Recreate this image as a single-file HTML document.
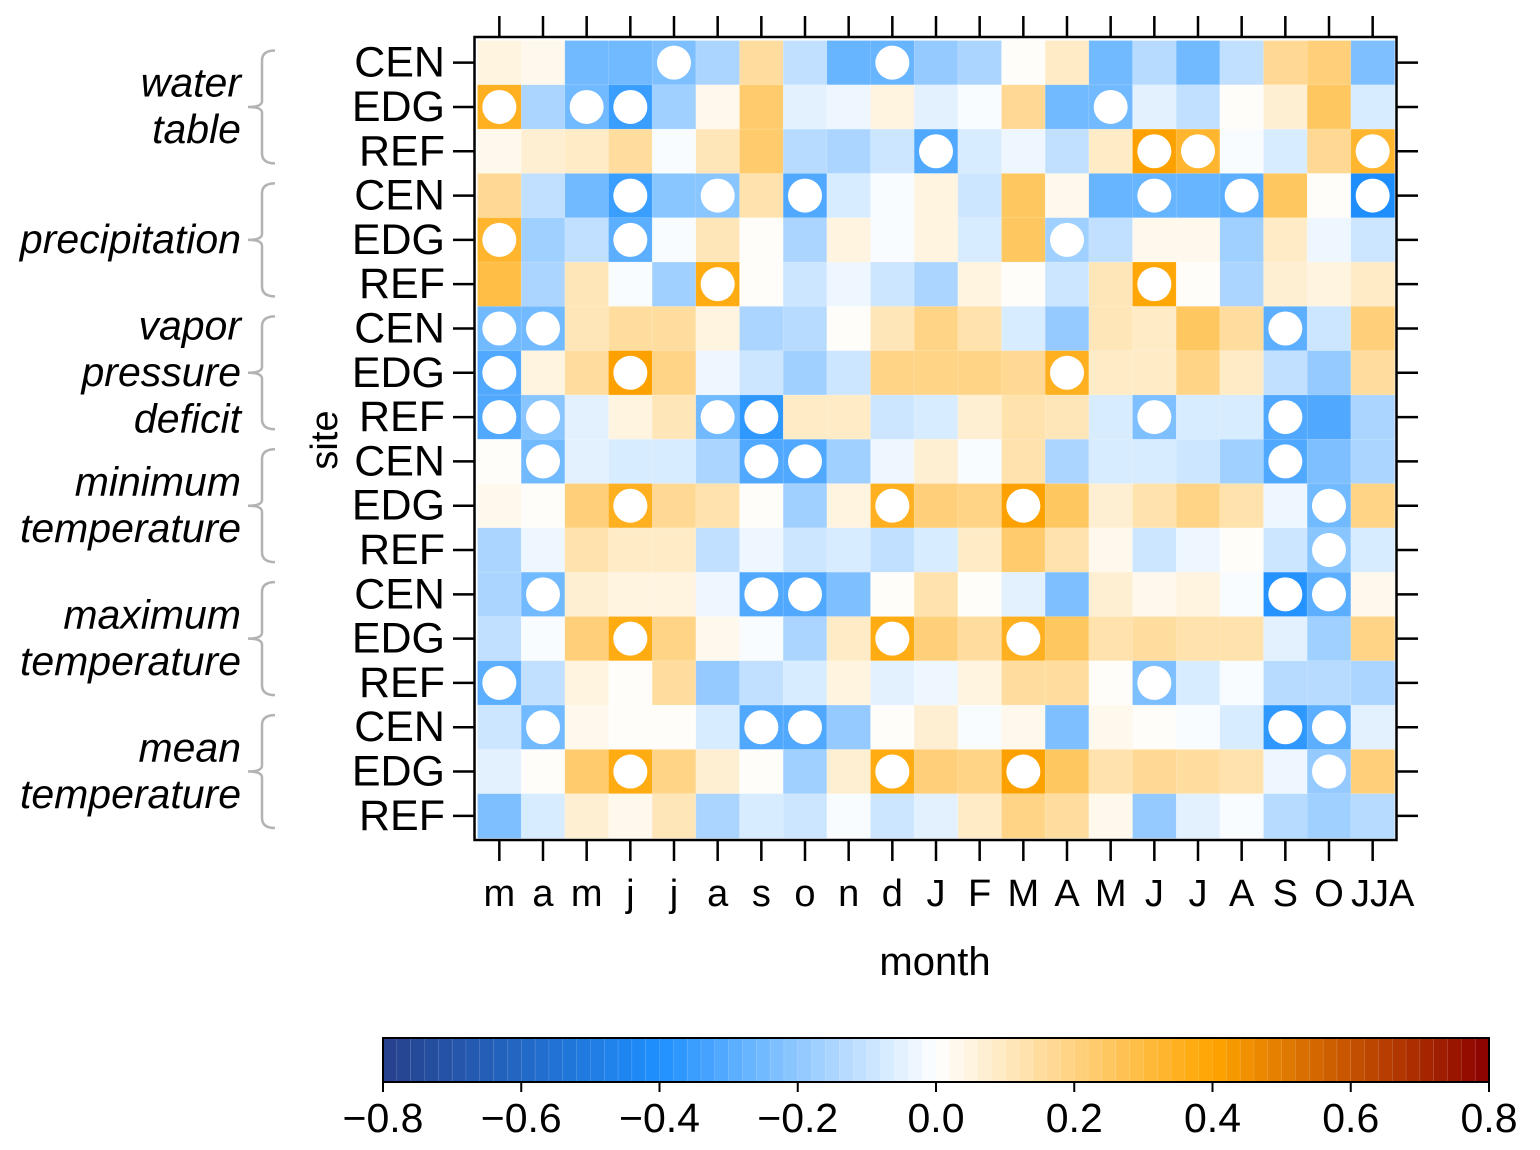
<!DOCTYPE html>
<html><head><meta charset="utf-8">
<style>
html,body{margin:0;padding:0;background:#fff;}
svg{display:block;font-family:"Liberation Sans",sans-serif;}
</style></head>
<body>
<svg id="chart" width="1540" height="1150" viewBox="0 0 1540 1150" xmlns="http://www.w3.org/2000/svg">
<g id="cells"></g>
<g id="dots"></g>
<rect x="474.5" y="37" width="922" height="803" fill="none" stroke="#000" stroke-width="2.5"/>
<g id="axes"></g>
<g id="groups"></g>
<text x="935" y="975" font-size="40" text-anchor="middle">month</text>
<text transform="translate(337,440) rotate(-90)" font-size="38" text-anchor="middle">site</text>
<g id="colorbar"></g>
</svg>
<script>
const months = ["m","a","m","j","j","a","s","o","n","d","J","F","M","A","M","J","J","A","S","O","JJA"];
const sites = ["CEN","EDG","REF","CEN","EDG","REF","CEN","EDG","REF","CEN","EDG","REF","CEN","EDG","REF","CEN","EDG","REF"];
const groupLabels = [["water","table"],["precipitation"],["vapor","pressure","deficit"],["minimum","temperature"],["maximum","temperature"],["mean","temperature"]];
const colorbarTicks = [-0.8,-0.6,-0.4,-0.2,0.0,0.2,0.4,0.6,0.8];
const values = [
[0.05,0.03,-0.25,-0.25,-0.24,-0.15,0.14,-0.11,-0.27,-0.27,-0.19,-0.16,0.01,0.09,-0.25,-0.13,-0.25,-0.11,0.16,0.2,-0.23],
[0.34,-0.16,-0.26,-0.35,-0.18,0.03,0.22,-0.05,-0.03,0.05,-0.05,-0.01,0.16,-0.25,-0.25,-0.05,-0.11,0.01,0.06,0.24,-0.07],
[0.03,0.07,0.09,0.15,-0.01,0.11,0.23,-0.13,-0.15,-0.09,-0.32,-0.07,-0.03,-0.11,0.09,0.4,0.33,-0.01,-0.07,0.17,0.33],
[0.17,-0.11,-0.26,-0.35,-0.21,-0.21,0.13,-0.31,-0.07,-0.01,0.04,-0.09,0.24,0.03,-0.27,-0.27,-0.27,-0.29,0.24,0.01,-0.42],
[0.33,-0.18,-0.12,-0.29,-0.01,0.11,0.01,-0.15,0.05,-0.01,0.05,-0.07,0.24,-0.18,-0.11,0.03,0.03,-0.18,0.08,-0.03,-0.09],
[0.28,-0.15,0.11,-0.01,-0.18,0.36,0.01,-0.09,-0.03,-0.09,-0.15,0.05,0.01,-0.09,0.11,0.38,0.01,-0.16,0.06,0.05,0.08],
[-0.25,-0.25,0.11,0.15,0.15,0.05,-0.16,-0.13,0.01,0.11,0.18,0.13,-0.07,-0.2,0.11,0.09,0.24,0.15,-0.29,-0.09,0.21],
[-0.31,0.05,0.14,0.4,0.18,-0.03,-0.09,-0.18,-0.09,0.18,0.18,0.19,0.17,0.35,0.08,0.08,0.18,0.08,-0.11,-0.2,0.15],
[-0.31,-0.22,-0.05,0.05,0.11,-0.25,-0.37,0.09,0.09,-0.09,-0.07,0.06,0.13,0.11,-0.07,-0.24,-0.07,-0.07,-0.31,-0.31,-0.16],
[0.01,-0.26,-0.05,-0.07,-0.07,-0.16,-0.31,-0.31,-0.18,-0.03,0.07,-0.01,0.13,-0.16,-0.07,-0.07,-0.09,-0.18,-0.32,-0.23,-0.15],
[0.03,0.01,0.21,0.35,0.17,0.13,0.01,-0.18,0.05,0.35,0.21,0.18,0.4,0.24,0.07,0.13,0.18,0.13,-0.03,-0.25,0.18],
[-0.16,-0.03,0.13,0.08,0.08,-0.11,-0.03,-0.09,-0.07,-0.11,-0.07,0.09,0.22,0.13,0.03,-0.09,-0.03,0.01,-0.09,-0.22,-0.07],
[-0.16,-0.26,0.07,0.05,0.05,-0.03,-0.32,-0.32,-0.23,0.01,0.13,0.01,-0.05,-0.23,0.07,0.03,0.05,-0.01,-0.4,-0.29,0.03],
[-0.11,-0.01,0.21,0.37,0.18,0.03,-0.01,-0.16,0.09,0.36,0.21,0.15,0.35,0.25,0.13,0.15,0.13,0.13,-0.05,-0.18,0.19],
[-0.29,-0.11,0.05,0.01,0.14,-0.2,-0.11,-0.07,0.05,-0.05,-0.03,0.05,0.15,0.15,0.01,-0.24,-0.07,-0.01,-0.13,-0.13,-0.15],
[-0.09,-0.26,0.03,0.01,0.01,-0.07,-0.32,-0.32,-0.2,0.01,0.07,-0.01,0.03,-0.23,0.03,0.01,-0.01,-0.07,-0.37,-0.29,-0.05],
[-0.05,0.01,0.23,0.37,0.18,0.07,0.01,-0.18,0.07,0.36,0.21,0.18,0.4,0.25,0.13,0.17,0.15,0.13,-0.03,-0.2,0.21],
[-0.23,-0.07,0.07,0.03,0.11,-0.16,-0.07,-0.09,-0.01,-0.09,-0.05,0.08,0.18,0.15,0.03,-0.2,-0.05,-0.01,-0.13,-0.18,-0.13]
];
const significant = [
[0,0,0,0,1,0,0,0,0,1,0,0,0,0,0,0,0,0,0,0,0],
[1,0,1,1,0,0,0,0,0,0,0,0,0,0,1,0,0,0,0,0,0],
[0,0,0,0,0,0,0,0,0,0,1,0,0,0,0,1,1,0,0,0,1],
[0,0,0,1,0,1,0,1,0,0,0,0,0,0,0,1,0,1,0,0,1],
[1,0,0,1,0,0,0,0,0,0,0,0,0,1,0,0,0,0,0,0,0],
[0,0,0,0,0,1,0,0,0,0,0,0,0,0,0,1,0,0,0,0,0],
[1,1,0,0,0,0,0,0,0,0,0,0,0,0,0,0,0,0,1,0,0],
[1,0,0,1,0,0,0,0,0,0,0,0,0,1,0,0,0,0,0,0,0],
[1,1,0,0,0,1,1,0,0,0,0,0,0,0,0,1,0,0,1,0,0],
[0,1,0,0,0,0,1,1,0,0,0,0,0,0,0,0,0,0,1,0,0],
[0,0,0,1,0,0,0,0,0,1,0,0,1,0,0,0,0,0,0,1,0],
[0,0,0,0,0,0,0,0,0,0,0,0,0,0,0,0,0,0,0,1,0],
[0,1,0,0,0,0,1,1,0,0,0,0,0,0,0,0,0,0,1,1,0],
[0,0,0,1,0,0,0,0,0,1,0,0,1,0,0,0,0,0,0,0,0],
[1,0,0,0,0,0,0,0,0,0,0,0,0,0,0,1,0,0,0,0,0],
[0,1,0,0,0,0,1,1,0,0,0,0,0,0,0,0,0,0,1,1,0],
[0,0,0,1,0,0,0,0,0,1,0,0,1,0,0,0,0,0,0,1,0],
[0,0,0,0,0,0,0,0,0,0,0,0,0,0,0,0,0,0,0,0,0]
];

const NS="http://www.w3.org/2000/svg";
function mk(tag,attrs,parent){const e=document.createElementNS(NS,tag);for(const k in attrs)e.setAttribute(k,attrs[k]);parent.appendChild(e);return e;}
const X0=477.5,X1=1394.5,Y0=40.5,Y1=838;
const cw=(X1-X0)/months.length, ch=(Y1-Y0)/sites.length;
function xScale(i){return X0+i*cw;}
function yScale(j){return Y0+j*ch;}
const stops=[[-0.8,[39,64,139]],[-0.4,[30,144,255]],[0,[255,255,255]],[0.4,[255,165,0]],[0.8,[139,0,0]]];
function color(v){
  v=Math.max(-0.8,Math.min(0.8,v));
  let b=Math.floor((v+0.8)/0.02); if(b>=80)b=79; const c=-0.8+(b+0.5)*0.02;
  for(let k=0;k<stops.length-1;k++){const a=stops[k],z=stops[k+1];
    if(c>=a[0]&&c<=z[0]){const t=(c-a[0])/(z[0]-a[0]);
      const r=a[1].map((q,i)=>Math.round(q+(z[1][i]-q)*t));return `rgb(${r[0]},${r[1]},${r[2]})`;}}
  return "#fff";
}
const gCells=document.getElementById('cells'), gDots=document.getElementById('dots');
values.forEach((row,j)=>row.forEach((v,i)=>{
  const r=mk('rect',{x:xScale(i),y:yScale(j),width:cw+0.3,height:ch+0.3,fill:color(v),stroke:'rgba(255,255,255,0.25)','stroke-width':0.6},gCells);
  
  
  if(significant[j][i]){
    const c=mk('circle',{cx:xScale(i)+cw/2,cy:yScale(j)+ch/2,r:17,fill:'#fff'},gDots);
    
    
  }
}));
const gAx=document.getElementById('axes');
months.forEach((m,i)=>{
  const x=xScale(i)+cw/2;
  const t1=mk('line',{x1:x,x2:x,y1:16,y2:37,stroke:'#000','stroke-width':2.5},gAx);
  
  
  const t2=mk('line',{x1:x,x2:x,y1:840,y2:861,stroke:'#000','stroke-width':2.5},gAx);
  
  
  const lx = (m==="JJA") ? x+10 : x;
  const tx=mk('text',{x:lx,y:906,'font-size':38,'text-anchor':'middle'},gAx);
  tx.textContent=m;
  
  
});
sites.forEach((s,j)=>{
  const y=yScale(j)+ch/2;
  const t1=mk('line',{x1:453,x2:474,y1:y,y2:y,stroke:'#000','stroke-width':2.5},gAx);
  
  
  const t2=mk('line',{x1:1396,x2:1418,y1:y,y2:y,stroke:'#000','stroke-width':2.5},gAx);
  
  
  const tx=mk('text',{x:445,y:y+14,'font-size':43,'text-anchor':'end'},gAx);
  tx.textContent=s;
  
  
});
const gG=document.getElementById('groups');
groupLabels.forEach((lines,g)=>{
  const top=yScale(g*3)+10, bot=yScale(g*3+3)-10, mid=(top+bot)/2;
  const p=mk('path',{d:`M275,${top} Q262,${top} 262,${top+10} L262,${mid-6} Q262,${mid} 248,${mid} Q262,${mid} 262,${mid+6} L262,${bot-10} Q262,${bot} 275,${bot}`,fill:'none',stroke:'#b3b3b3','stroke-width':2.5},gG);
  
  
  const lh=46.5, startY=mid-(lines.length-1)*lh/2+13;
  lines.forEach((ln,k)=>{
    const t=mk('text',{x:241,y:startY+k*lh,'font-size':41,'font-style':'italic','text-anchor':'end'},gG);
    t.textContent=ln;
    
    
  });
});
const gC=document.getElementById('colorbar');
const CB0=383,CB1=1489,CBy=1038,CBh=44;
function cbx(v){return CB0+(v+0.8)/1.6*(CB1-CB0);}
for(let b=0;b<80;b++){
  const v0=-0.8+b*0.02;
  const r=mk('rect',{x:cbx(v0),y:CBy,width:(CB1-CB0)/80+0.2,height:CBh,fill:color(v0+0.01),stroke:'rgba(255,255,255,0.25)','stroke-width':0.5},gC);
  
  
}
const fr=mk('rect',{x:CB0,y:CBy,width:CB1-CB0,height:CBh,fill:'none',stroke:'#000','stroke-width':2},gC);


colorbarTicks.forEach(v=>{
  const x=cbx(v);
  const l=mk('line',{x1:x,x2:x,y1:CBy+CBh,y2:CBy+CBh+10,stroke:'#000','stroke-width':2},gC);
  
  
  const t=mk('text',{x:x,y:1132,'font-size':41,'text-anchor':'middle'},gC);
  t.textContent=(v<0?'\u2212':'')+Math.abs(v).toFixed(1);
  
  
});
</script>
</body></html>
